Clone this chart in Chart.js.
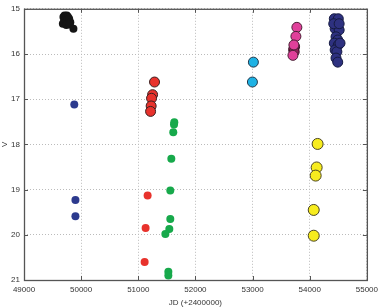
<!DOCTYPE html>
<html lang="en">
<head>
<meta charset="UTF-8">
<title>V light curve</title>
<script src="https://cdn.jsdelivr.net/npm/chart.js"></script>
<style>
    * { margin: 0; padding: 0; box-sizing: border-box; }
    body { background: #fff; width: 383px; height: 308px; overflow: hidden; }
    #wrap { width: 383px; height: 308px; position: relative; }
</style>
</head>
<body>
<div id="wrap"><canvas id="lc" width="383" height="308"></canvas></div>
<script>
// axis ticks
const xTicks = [49000, 50000, 51000, 52000, 53000, 54000, 55000];
const yTicks = [15, 16, 17, 18, 19, 20, 21];

// black cluster
const blackX = [49690, 49710, 49730, 49750, 49770, 49700, 49720, 49745, 49765, 49790, 49810, 49680, 49740, 49800, 49865];
const blackY = [15.18, 15.15, 15.16, 15.15, 15.18, 15.28, 15.25, 15.27, 15.24, 15.22, 15.3, 15.33, 15.36, 15.35, 15.44];

// navy small
const blueX = [49880, 49900, 49900];
const blueY = [17.12, 19.23, 19.59];

// red bordered
const redBX = [51284, 51250, 51232, 51225, 51215];
const redBY = [16.62, 16.9, 16.98, 17.15, 17.27];

// red plain
const redX = [51163, 51128, 51111];
const redY = [19.13, 19.85, 20.6];

// green
const greenX = [51630, 51625, 51612, 51578, 51560, 51560, 51543, 51474, 51526, 51526];
const greenY = [17.51, 17.56, 17.73, 18.32, 19.02, 19.65, 19.87, 19.98, 20.82, 20.9];

// cyan
const cyanX = [53014, 52997];
const cyanY = [16.18, 16.62];

// magenta
const magX = [53775, 53758, 53723, 53706];
const magY = [15.41, 15.61, 15.8, 16.03];
const magDarkX = [53735, 53718, 53728];
const magDarkY = [15.84, 15.9, 15.95];

// dark blue cluster
const navyX = [54430, 54500, 54445, 54515, 54460, 54490, 54430, 54500, 54445, 54475, 54460, 54490, 54530, 54420, 54515];
const navyY = [15.22, 15.22, 15.44, 15.47, 15.62, 15.69, 15.76, 15.8, 15.91, 15.95, 16.09, 16.18, 15.76, 15.33, 15.33];

// yellow
const yellowX = [54138, 54121, 54104, 54070, 54070];
const yellowY = [17.99, 18.51, 18.69, 19.45, 20.02];

function pts(xs, ys) {
    return xs.map((x, i) => ({ x: x, y: ys[i] }));
}

function set(xs, ys, fill, border, r, bw) {
    return {
        data: pts(xs, ys),
        backgroundColor: fill,
        borderColor: border,
        borderWidth: bw,
        pointRadius: r,
        pointHoverRadius: r
    };
}

const frame = {
    id: 'frame',
    afterDraw(chart) {
        const a = chart.chartArea;
        const c = chart.ctx;
        c.save();
        c.strokeStyle = '#555';
        c.lineWidth = 1.3;
        c.strokeRect(a.left + 0.5, a.top + 0.5, a.right - a.left, a.bottom - a.top);
        // inner ticks
        c.lineWidth = 1;
        c.beginPath();
        const xs = chart.scales.x, ys = chart.scales.y;
        xTicks.forEach(v => {
            const p = Math.round(xs.getPixelForValue(v)) + 0.5;
            c.moveTo(p, a.bottom); c.lineTo(p, a.bottom - 4);
            c.moveTo(p, a.top); c.lineTo(p, a.top + 4);
        });
        yTicks.forEach(v => {
            const p = Math.round(ys.getPixelForValue(v)) + 0.5;
            c.moveTo(a.left, p); c.lineTo(a.left + 4, p);
            c.moveTo(a.right, p); c.lineTo(a.right - 4, p);
        });
        c.stroke();
        c.restore();
    }
};

const font = { family: "'Liberation Sans', Arial, sans-serif", size: 8 };

new Chart(document.getElementById('lc'), {
    type: 'scatter',
    data: {
        datasets: [
            set(blackX, blackY, '#151515', '#151515', 4, 0),
            set(blueX, blueY, '#2c3a8e', '#2c3a8e', 4, 0),
            set(redBX, redBY, '#e8322c', '#3a2020', 5, 1),
            set(redX, redY, '#e8322c', '#e8322c', 4, 0),
            set(greenX, greenY, '#17a94b', '#17a94b', 4, 0),
            set(cyanX, cyanY, '#1eb2e4', '#24384a', 5, 1),
            set(magX, magY, '#e0409a', '#4a2035', 5, 1),
            set(magDarkX, magDarkY, '#8e2158', '#3a1025', 5, 1),
            set(navyX, navyY, '#2e3180', '#151a40', 5, 1),
            set(yellowX, yellowY, '#f7ec1e', '#4a4420', 5.5, 1)
        ]
    },
    options: {
        responsive: false,
        animation: false,
        layout: { padding: { top: 5, right: 12, left: 0, bottom: 0 } },
        plugins: { legend: { display: false }, tooltip: { enabled: false } },
        scales: {
            x: {
                type: 'linear',
                min: 49000, max: 55000,
                afterBuildTicks: s => { s.ticks = xTicks.map(v => ({ value: v })); },
                afterFit: s => { s.height = 28; },
                border: { display: false, dash: [1, 2] },
                grid: { color: '#bbb', lineWidth: 1, drawTicks: false },
                ticks: { font: font, color: '#333', padding: 5, maxRotation: 0, callback: v => String(v) },
                title: { display: true, text: 'JD (+2400000)', font: font, color: '#333', padding: { top: 0, bottom: 0 } }
            },
            y: {
                type: 'linear',
                reverse: true,
                min: 15, max: 21,
                afterBuildTicks: s => { s.ticks = yTicks.map(v => ({ value: v })); },
                afterFit: s => { s.width = 24; },
                border: { display: false, dash: [1, 2] },
                grid: { color: '#bbb', lineWidth: 1, drawTicks: false },
                ticks: { font: font, color: '#333', padding: 4, callback: v => String(v) },
                title: { display: true, text: 'V', font: font, color: '#333', padding: 0 }
            }
        }
    },
    plugins: [frame]
});
</script>
</body>
</html>
